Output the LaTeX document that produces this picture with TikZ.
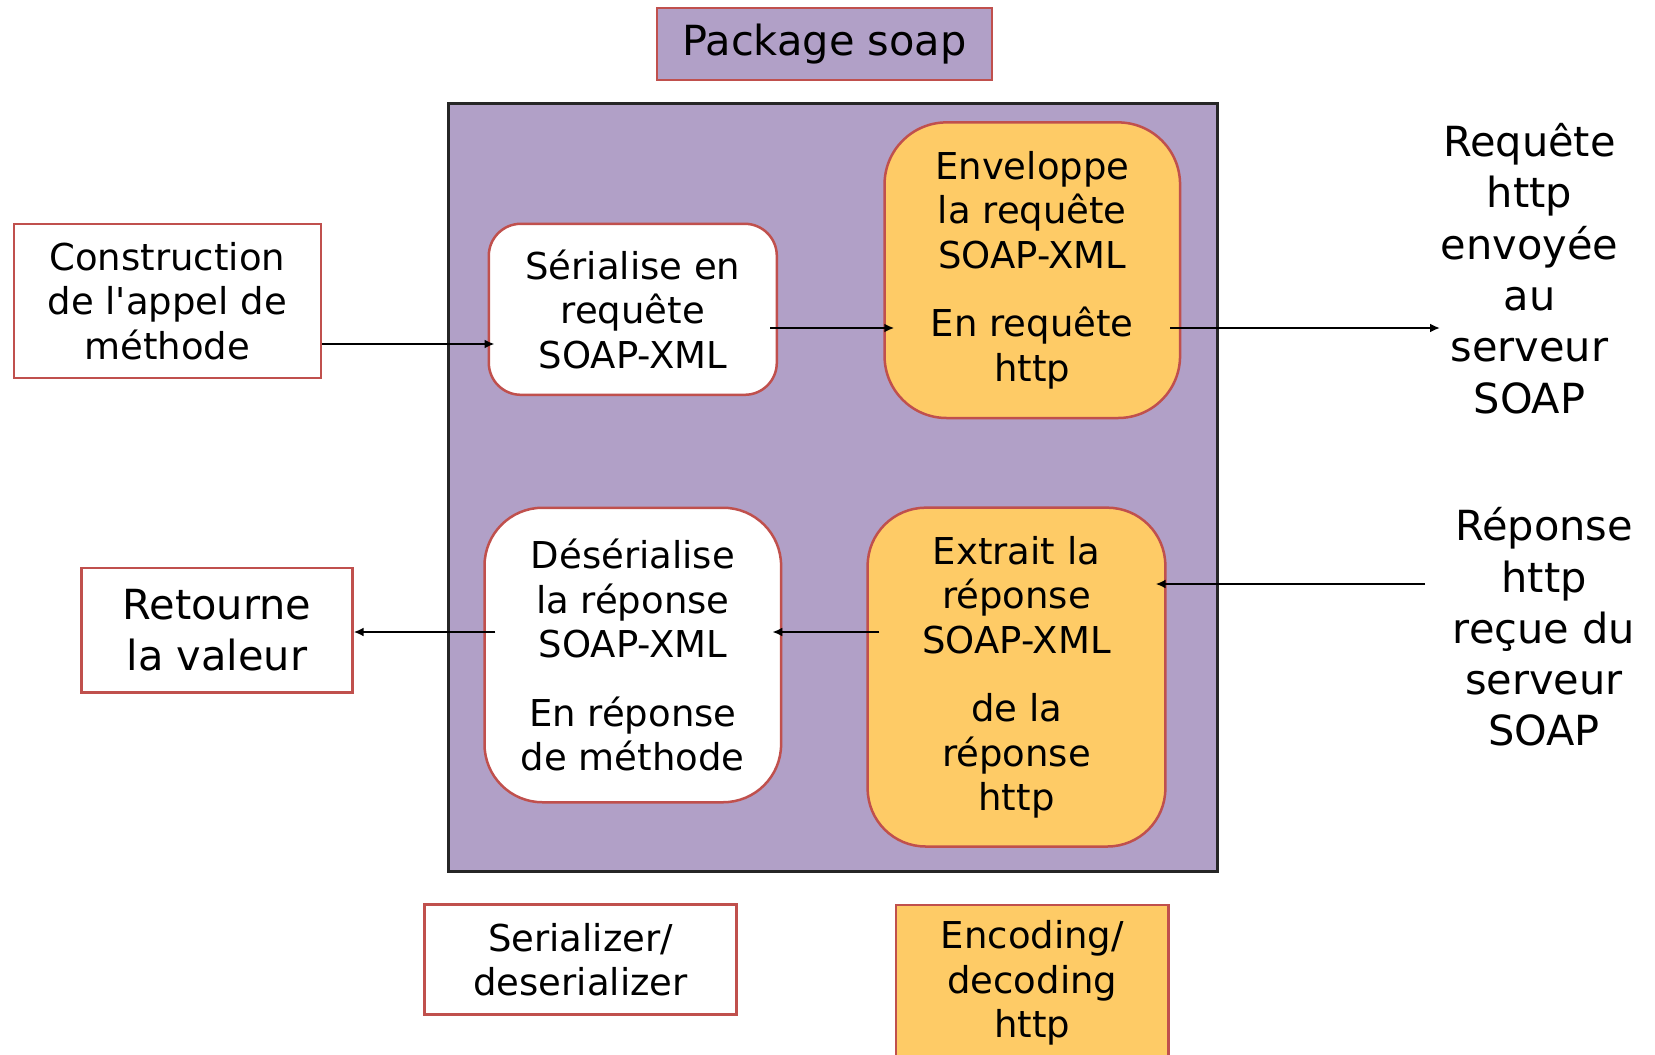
\documentclass[tikz,border=0pt]{standalone}
\usepackage{fontspec}
\setmainfont{DejaVu Sans}
\usetikzlibrary{arrows.meta}
\definecolor{lav}{HTML}{B1A0C7}
\definecolor{org}{HTML}{FECB66}
\definecolor{bred}{HTML}{C0504D}
\newcommand\boxfont{\fontsize{37}{44.5}\selectfont}
\newcommand\bigfont{\fontsize{41.5}{51.3}\selectfont}
\tikzset{
  box/.style={draw=bred, line width=2.5pt, align=center, inner sep=0pt, font=\boxfont},
  wbox/.style={box, fill=white},
  obox/.style={box, fill=org},
  arr/.style={draw=black, line width=2pt, -{Latex[length=10pt,width=9pt]}},
  plain/.style={align=center, inner sep=0pt, font=\bigfont},
}
\begin{document}
\begin{tikzpicture}[x=1pt,y=-1pt]
\useasboundingbox (0,0) rectangle (1655,1055);
\fill[white] (0,0) rectangle (1655,1055);
% package title
\node[box, fill=lav, font=\bigfont, minimum width=335, minimum height=72] (pkg) at (824.5,44) {Package soap};
% main package area
\node[draw=black!85, line width=3pt, fill=lav, minimum width=768.4, minimum height=768.4, inner sep=0pt] (main) at (832.8,487.6) {};
% left
\node[wbox, minimum width=307, minimum height=154] (constr) at (167.3,300.8) {Construction\\de l\textquotesingle appel de\\méthode};
\node[wbox, font=\bigfont, minimum width=271, minimum height=124.5] (ret) at (216.9,630.1) {Retourne\\la valeur};
% inside
\node[wbox, rounded corners=32pt, minimum width=288, minimum height=171] (ser) at (632.8,309.3) {Sérialise en\\requête\\SOAP-XML};
\node[obox, rounded corners=62pt, minimum width=295.5, minimum height=295.6] (env) at (1032.3,270.2) {Enveloppe\\la requête\\SOAP-XML\\[24pt]En requête\\http};
\node[wbox, rounded corners=58pt, minimum width=296.6, minimum height=294.5] (deser) at (632.8,655) {Désérialise\\la réponse\\SOAP-XML\\[24pt]En réponse\\de méthode};
\node[obox, rounded corners=58pt, minimum width=297.7, minimum height=338.8] (extr) at (1016.5,677.1) {Extrait la\\réponse\\SOAP-XML\\[24pt]de la\\réponse\\http};
% legends
\node[wbox, minimum width=312.4, minimum height=109.8] (serz) at (580.5,959.5) {Serializer/\\deserializer};
\node[obox, minimum width=272.3, minimum height=156] (enc) at (1032.3,983) {Encoding/\\decoding\\http};
% right texts
\node[plain] (req) at (1529.5,268.6) {Requête\\http\\envoyée\\au\\serveur\\SOAP};
\node[plain] (rep) at (1544,627) {Réponse\\http\\reçue du\\serveur\\SOAP};
\coordinate (reqin) at (1440,328);
\coordinate (repout) at (1425,584);
% arrows
\draw[arr] (constr.east |- 0,344) -- ([xshift=7pt]ser.west |- 0,344);
\draw[arr] ([xshift=-8pt]ser.east |- 0,328) -- ([xshift=11pt]env.west |- 0,328);
\draw[arr] ([xshift=-11pt]env.east |- 0,328) -- (reqin);
\draw[arr] (repout) -- ([xshift=-11pt]extr.east |- repout);
\draw[arr] ([xshift=13pt]extr.west |- 0,632) -- ([xshift=-10pt]deser.east |- 0,632);
\draw[arr] ([xshift=12pt]deser.west |- 0,632) -- (ret.east |- 0,632);
\end{tikzpicture}
\end{document}
